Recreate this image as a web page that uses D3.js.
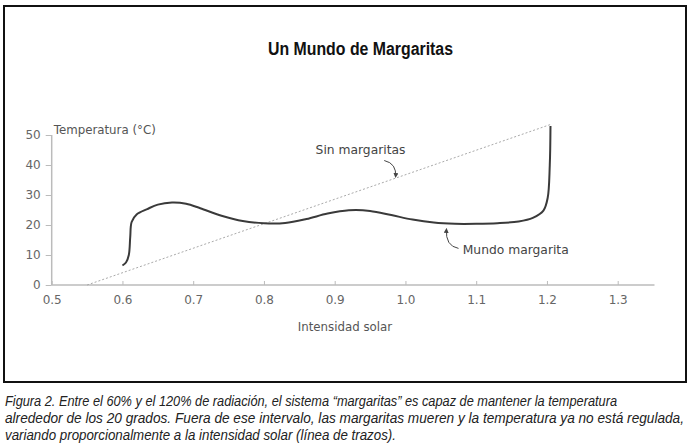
<!DOCTYPE html>
<html>
<head>
<meta charset="utf-8">
<script src="https://cdn.jsdelivr.net/npm/d3@7"></script>
<style>
  body { margin: 0; background: #fff; }
  svg { display: block; }
</style>
</head>
<body>
<svg id="chart" width="694" height="445"></svg>
<script>
// --- data ---
const xTicks = [0.5, 0.6, 0.7, 0.8, 0.9, 1.0, 1.1, 1.2, 1.3];
const yTicks = [0, 10, 20, 30, 40, 50];

// "Mundo margarita" curve: solar intensity vs temperature
const daisyX = [0.600, 0.605, 0.609, 0.611, 0.613, 0.620, 0.635, 0.650, 0.670, 0.690,
  0.710, 0.740, 0.770, 0.800, 0.830, 0.860, 0.890, 0.920, 0.950, 0.980,
  1.010, 1.040, 1.070, 1.100, 1.130, 1.160, 1.180, 1.195, 1.201, 1.204, 1.205];
const daisyT = [6.5, 7.5, 10, 16, 21, 23.5, 25.3, 26.8, 27.5, 27.1,
  25.6, 23.1, 21.3, 20.6, 20.7, 22, 23.8, 24.9, 24.7, 23.3,
  21.8, 20.8, 20.4, 20.4, 20.6, 21.2, 22.4, 24.8, 29, 40, 53];

// "Sin margaritas" dashed line
const bareX = [0.55, 1.205];
const bareT = [0, 53.5];

const title = "Un Mundo de Margaritas";
const caption = [
  "Figura 2. Entre el 60% y el 120% de radiación, el sistema \u201cmargaritas\u201d es capaz de mantener la temperatura",
  "alrededor de los 20 grados. Fuera de ese intervalo, las margaritas mueren y la temperatura ya no está regulada,",
  "variando proporcionalmente a la intensidad solar (línea de trazos)."
];
const captionWidths = [612, 679, 391];

const svg = d3.select("#chart");

// frame
svg.append("rect")
  .attr("x", 4).attr("y", 6)
  .attr("width", 682).attr("height", 376)
  .attr("fill", "none")
  .attr("stroke", "#111")
  .attr("stroke-width", 2);

// condensed look: squeeze the glyphs to the measured width
svg.append("text")
  .attr("x", 268).attr("y", 55)
  .attr("font-family", "'Liberation Sans', Arial, sans-serif")
  .attr("font-weight", "bold")
  .attr("font-size", 18)
  .attr("fill", "#111")
  .attr("textLength", 185)
  .attr("lengthAdjust", "spacingAndGlyphs")
  .text(title);

const x = d3.scaleLinear().domain([0.5, 1.3]).range([51.7, 617.7]);
const y = d3.scaleLinear().domain([0, 50]).range([285, 135]);

const axisFont = "'DejaVu Sans', Verdana, sans-serif";
const axisColor = "#bbb";
const labelColor = "#666";

// x axis
const xAxis = svg.append("g")
  .attr("transform", `translate(0,${y(0)})`)
  .call(d3.axisBottom(x).tickValues(xTicks).tickSize(-4).tickFormat(d3.format(".1f")));
xAxis.select(".domain").remove();
xAxis.append("line")
  .attr("x1", x(0.5)).attr("x2", x(1.352))
  .attr("stroke", axisColor).attr("stroke-width", 1.5);
xAxis.selectAll(".tick line").attr("stroke", axisColor);
xAxis.selectAll(".tick text")
  .attr("y", 10)
  .attr("font-family", axisFont)
  .attr("font-size", 12)
  .attr("fill", labelColor);

// y axis
const yAxis = svg.append("g")
  .attr("transform", `translate(${x(0.5)},0)`)
  .call(d3.axisLeft(y).tickValues(yTicks).tickSize(6).tickPadding(5));
yAxis.select(".domain").remove();
yAxis.append("line")
  .attr("y1", y(0)).attr("y2", y(50))
  .attr("stroke", axisColor).attr("stroke-width", 1.5);
yAxis.selectAll(".tick line").attr("stroke", axisColor);
yAxis.selectAll(".tick text")
  .attr("font-family", axisFont)
  .attr("font-size", 12)
  .attr("fill", labelColor);

svg.append("text")
  .attr("x", x(0.5) + 2).attr("y", 134)
  .attr("font-family", axisFont).attr("font-size", 11.8)
  .attr("fill", "#555")
  .text("Temperatura (°C)");

svg.append("text")
  .attr("x", 345).attr("y", 331)
  .attr("text-anchor", "middle")
  .attr("font-family", axisFont).attr("font-size", 11.8)
  .attr("fill", "#555")
  .text("Intensidad solar");

// dashed "Sin margaritas" line
svg.append("path")
  .datum(d3.zip(bareX, bareT))
  .attr("d", d3.line().x(d => x(d[0])).y(d => y(d[1])))
  .attr("fill", "none")
  .attr("stroke", "#aaa")
  .attr("stroke-width", 1)
  .attr("stroke-dasharray", "2,2");

// daisy world curve
svg.append("path")
  .datum(d3.zip(daisyX, daisyT))
  .attr("d", d3.line().x(d => x(d[0])).y(d => y(d[1])).curve(d3.curveCatmullRom))
  .attr("fill", "none")
  .attr("stroke", "#3a3a3a")
  .attr("stroke-width", 2)
  .attr("stroke-linejoin", "round");

// annotations
const defs = svg.append("defs");
defs.append("marker")
  .attr("id", "head")
  .attr("viewBox", "0 0 10 10")
  .attr("refX", 8).attr("refY", 5)
  .attr("markerWidth", 5).attr("markerHeight", 5)
  .attr("orient", "auto")
  .append("path")
  .attr("d", "M0,0L10,5L0,10z")
  .attr("fill", "#444");

const annoFont = "'DejaVu Sans', Verdana, sans-serif";

svg.append("text")
  .attr("x", x(0.873)).attr("y", y(43.7))
  .attr("font-family", annoFont).attr("font-size", 12.3)
  .attr("fill", "#444")
  .text("Sin margaritas");

svg.append("path")
  .attr("d", `M${x(0.970)},${y(41.5)} Q${x(0.988)},${y(40.5)} ${x(0.986)},${y(36)}`)
  .attr("fill", "none").attr("stroke", "#444").attr("stroke-width", 1)
  .attr("marker-end", "url(#head)");

svg.append("text")
  .attr("x", x(1.081)).attr("y", y(10.3))
  .attr("font-family", annoFont).attr("font-size", 12.3)
  .attr("fill", "#444")
  .text("Mundo margarita");

svg.append("path")
  .attr("d", `M${x(1.075)},${y(12.2)} Q${x(1.056)},${y(13)} ${x(1.058)},${y(18.7)}`)
  .attr("fill", "none").attr("stroke", "#444").attr("stroke-width", 1)
  .attr("marker-end", "url(#head)");

// caption, squeezed to the condensed widths of the original
svg.append("g")
  .selectAll("text")
  .data(caption)
  .join("text")
  .attr("x", 5)
  .attr("y", (d, i) => 406 + i * 17)
  .attr("font-family", "'Liberation Sans', Arial, sans-serif")
  .attr("font-style", "italic")
  .attr("font-size", 15.5)
  .attr("fill", "#222")
  .attr("textLength", (d, i) => captionWidths[i])
  .attr("lengthAdjust", "spacingAndGlyphs")
  .text(d => d);
</script>
</body>
</html>
